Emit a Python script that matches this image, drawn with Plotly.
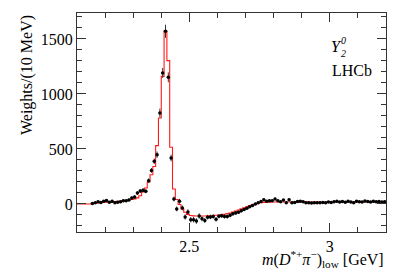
import numpy as np
import plotly.graph_objects as go

# ---- data ----
bin_lo = 2.10      # GeV, first bin edge
bin_w = 0.01       # GeV, 10 MeV bins
n_bins = 110

# fit model (red histogram), one value per 10 MeV bin from 2.10 to 3.20
model_vals = [
    0, 0, 0, 0, 0,
    5, 7, 9, 11, 13, 15, 17, 19, 21, 23,
    26, 29, 32, 36, 40, 46, 55, 75, 110, 145,
    200, 266, 340, 530, 781, 1160, 1575, 1303, 515, 136,
    40, -5, -45, -75, -95, -105, -108, -110, -110, -110,
    -109, -108, -107, -105, -103, -100, -97, -93, -88, -82,
    -74, -65, -55, -45, -35, -25, -15, -7, 0, 6,
    11, 14, 16, 17, 18,
    18, 18, 18, 18, 18, 18, 18, 18, 18, 18,
    18, 18, 18, 18, 18, 18, 18, 18, 18, 18,
    18, 18, 18, 18, 18, 18, 18, 18, 18, 18,
    18, 18, 18, 18, 18, 18, 18, 18, 18, 18,
]

# weighted data points, bins 2.15-2.16 ... 3.19-3.20
data_first_bin = 5
data_vals = [
    4, 10, 19, 13, 25, 31, 16, 25, 10, 16,
    19, 28, 28, 37, 54, 64, 100, 118, 124, 115,
    212, 305, 388, 448, 827, 1191, 1570, 1151, 418, 45,
    -45, 24, -36, -118, -73, -143, -143, -155, -110,
    -135, -150, -120, -118, -113, -140, -112, -108, -113, -115,
    -103, -90, -82, -75, -62, -50, -38, -25, -15, 0,
    10, 22, 38, 25, 28, 30, 45, 30, 20, 35,
    12, 38, 12, 14, 22, 24, 20, 10, 12, 8,
    12, 10, 11, 14, 10, 18, 14, 20, 24, 17,
    22, 15, 25, 18, 12, 24, 20, 18, 26, 22,
    18, 24, 20, 22, 18, 20,
]
data_errs = [
    10, 10, 11, 11, 11, 12, 11, 12, 11, 11,
    12, 12, 12, 13, 14, 15, 17, 18, 18, 18,
    20, 22, 25, 28, 40, 45, 60, 45, 30, 22,
    22, 22, 22, 24, 24, 25, 25, 25, 24,
    22, 22, 21, 20, 20, 20, 19, 19, 19, 18,
    18, 17, 16, 16, 15, 14, 13, 12, 12, 11,
    11, 11, 11, 11, 11, 11, 11, 10, 10, 10,
    10, 10, 10, 10, 10, 10, 10, 10, 10, 10,
    10, 10, 10, 10, 10, 10, 10, 10, 10, 10,
    10, 10, 10, 10, 10, 10, 10, 10, 10, 10,
    10, 10, 10, 10, 10, 10,
]

x_range = [2.10, 3.20]
y_range = [-255, 1736]

# ---- derived positions ----
edges = bin_lo + bin_w * np.arange(n_bins + 1)
centers = bin_lo + bin_w * (np.arange(n_bins) + 0.5)
data_x = centers[data_first_bin:data_first_bin + len(data_vals)]
model_step_y = list(model_vals) + [model_vals[-1]]

FONT = "'Liberation Serif', 'Times New Roman', Times, 'DejaVu Serif', serif"

fig = go.Figure()
fig.add_trace(go.Scatter(
    x=edges, y=model_step_y, mode="lines", line_shape="hv",
    line=dict(color="#ff1a1a", width=1.1), hoverinfo="skip", showlegend=False))
fig.add_trace(go.Scatter(
    x=data_x, y=data_vals, mode="markers",
    marker=dict(color="black", size=3.5),
    error_y=dict(type="data", array=data_errs, color="#333333", thickness=1, width=0),
    showlegend=False))

axis_common = dict(
    showgrid=False, zeroline=False, showline=True, linecolor="#333333", linewidth=1,
    mirror="ticks", ticks="inside", tickcolor="#333333", tickwidth=1,
    tickfont=dict(family=FONT, size=16, color="black"),
)
fig.update_xaxes(range=x_range, tick0=0, dtick=0.5, ticklen=9,
                 minor=dict(ticks="inside", ticklen=5, dtick=0.1, tickcolor="#333333"),
                 **axis_common)
fig.update_yaxes(range=y_range, tick0=0, dtick=500, ticklen=9,
                 minor=dict(ticks="inside", ticklen=5, dtick=100, tickcolor="#333333"),
                 **axis_common)

W, H = 407, 277
L, R, T, B = 77, 21, 13, 45
pw, ph = W - L - R, H - T - B

def px(xp):
    return (xp - L) / pw

def py(yp):
    return (H - B - yp) / ph

ann = [
    dict(text="Weights/(10 MeV)", x=px(27), y=1.0, xanchor="center", yanchor="top",
         textangle=-90, font=dict(size=16)),
    dict(text="<i>m</i>(<i>D</i><sup>*+</sup><i>π</i><sup>−</sup>)<sub>low</sub> [GeV]",
         x=1.0, y=py(259), xanchor="right", yanchor="middle", font=dict(size=16)),
    dict(text="<i>Y</i>", x=px(330), y=py(46.5), xanchor="left", yanchor="middle",
         font=dict(size=16), borderpad=0),
    dict(text="<i>0</i>", x=px(340), y=py(47.5), xanchor="left", yanchor="bottom",
         font=dict(size=10), borderpad=0),
    dict(text="<i>2</i>", x=px(340), y=py(46.5), xanchor="left", yanchor="top",
         font=dict(size=10), borderpad=0),
    dict(text="LHCb", x=px(330), y=py(70), xanchor="left", yanchor="middle",
         font=dict(size=16)),
]
for a in ann:
    a.update(xref="paper", yref="paper", showarrow=False)
    a["font"].update(family=FONT, color="black")

fig.update_layout(
    width=W, height=H, margin=dict(l=L, r=R, t=T, b=B, pad=0),
    paper_bgcolor="white", plot_bgcolor="white",
    font=dict(family=FONT, size=16, color="black"),
    annotations=ann, showlegend=False,
)

fig.write_html("out.html", config={"displayModeBar": False},
               post_script="document.body.style.margin='0';")
